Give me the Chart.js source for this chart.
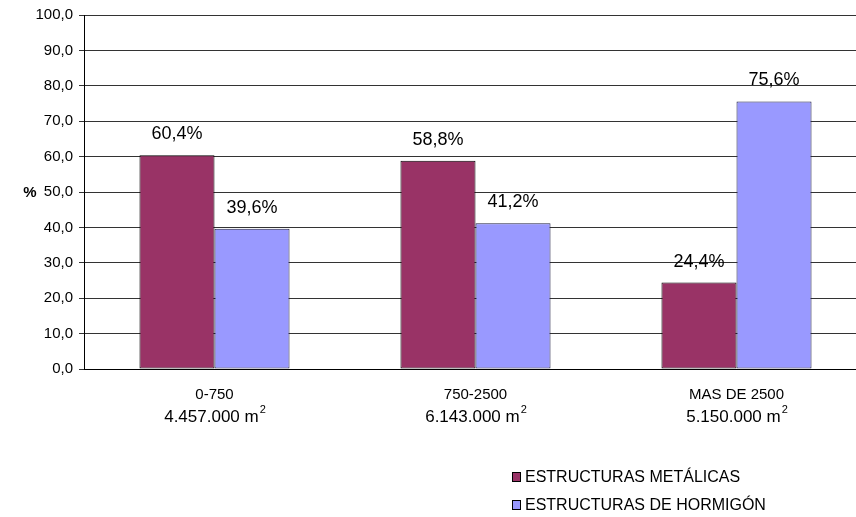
<!DOCTYPE html>
<html>
<head>
<meta charset="utf-8">
<script src="https://cdn.jsdelivr.net/npm/chart.js@4/dist/chart.umd.min.js"></script>
<style>
  html, body { margin: 0; padding: 0; background: #fff; overflow: hidden; }
  #wrap { width: 867px; height: 517px; }
</style>
</head>
<body>
<div id="wrap"><canvas id="myChart" width="867" height="517"></canvas></div>
<script>
// rangos de superficie
const categorias = ["0-750", "750-2500", "MAS DE 2500"];
const superficies = ["4.457.000 m", "6.143.000 m", "5.150.000 m"];
const metalicas = [60.4, 58.8, 24.4];
const hormigon = [39.6, 41.2, 75.6];
const serieNombres = ["ESTRUCTURAS METÁLICAS", "ESTRUCTURAS DE HORMIGÓN"];
const colores = ["#993366", "#9999FF"];

const FONT = "Arial, 'Liberation Sans', sans-serif";

function coma(v) {
  return v.toFixed(1).replace(".", ",");
}

//etiquetas encima de las barras
const etiquetasPlugin = {
  id: "etiquetas",
  afterDatasetsDraw(chart) {
    const ctx = chart.ctx;
    ctx.save();
    ctx.font = "18px " + FONT;
    ctx.fillStyle = "#000";
    ctx.textAlign = "center";
    ctx.textBaseline = "middle";
    chart.data.datasets.forEach((ds, i) => {
      chart.getDatasetMeta(i).data.forEach((bar, j) => {
        ctx.fillText(coma(ds.data[j]) + "%", bar.x, bar.y - 21);
      });
    });
    ctx.restore();
  },
};

//segunda linea del eje x con m2, titulo % y leyenda vertical
const extrasPlugin = {
  id: "extras",
  afterDraw(chart) {
    const ctx = chart.ctx;
    const x = chart.scales.x;
    const y = chart.scales.y;
    ctx.save();
    ctx.fillStyle = "#000";
    ctx.textBaseline = "middle";

    // titulo del eje y, horizontal
    ctx.font = "bold 15px " + FONT;
    ctx.textAlign = "center";
    ctx.fillText("%", 30, y.getPixelForValue(50) + 1);

    superficies.forEach((s, i) => {
      ctx.font = "17px " + FONT;
      const w1 = ctx.measureText(s).width;
      ctx.font = "11px " + FONT;
      const w2 = ctx.measureText("2").width;
      const cx = x.getPixelForValue(i);
      const left = cx - (w1 + w2) / 2;
      ctx.font = "17px " + FONT;
      ctx.textAlign = "left";
      ctx.fillText(s, left, 417);
      ctx.font = "11px " + FONT;
      ctx.fillText("2", left + w1 + 1, 410);
    });

    ctx.font = "16px " + FONT;
    serieNombres.forEach((n, i) => {
      const yy = 477 + i * 28;
      ctx.fillStyle = colores[i];
      ctx.fillRect(512, yy - 5, 9, 10);
      ctx.strokeStyle = "#000";
      ctx.lineWidth = 1;
      ctx.strokeRect(512.5, yy - 4.5, 8, 9);
      ctx.fillStyle = "#000";
      ctx.textAlign = "left";
      ctx.fillText(n, 525, yy + 1);
    });
    ctx.restore();
  },
};

const config = {
  type: "bar",
  data: {
    labels: categorias,
    datasets: [
      {
        label: serieNombres[0],
        data: metalicas,
        backgroundColor: colores[0],
        borderColor: "#000",
        borderWidth: 1,
        borderSkipped: false,
        barPercentage: 1,
        categoryPercentage: 0.575,
      },
      {
        label: serieNombres[1],
        data: hormigon,
        backgroundColor: colores[1],
        borderColor: "#222244",
        borderWidth: 1,
        borderSkipped: false,
        barPercentage: 1,
        categoryPercentage: 0.575,
      },
    ],
  },
  options: {
    responsive: false,
    animation: false,
    layout: { padding: { top: 15, left: 0, right: 0, bottom: 0 } },
    plugins: {
      legend: { display: false },
      tooltip: { enabled: false },
    },
    scales: {
      x: {
        grid: { display: false },
        border: { color: "#000", width: 1 },
        ticks: {
          color: "#000",
          font: { family: FONT, size: 15 },
          padding: 9,
          maxRotation: 0,
        },
        afterFit(scale) {
          scale.height = 148;
        },
      },
      y: {
        min: 0,
        max: 100,
        ticks: {
          stepSize: 10,
          color: "#000",
          font: { family: FONT, size: 15 },
          padding: 6,
          callback: (v) => coma(v),
        },
        grid: { color: "#333", lineWidth: 1, tickLength: 5 },
        border: { color: "#000", width: 1 },
        afterFit(scale) {
          scale.width = 84;
        },
      },
    },
  },
  plugins: [etiquetasPlugin, extrasPlugin],
};

const myChart = new Chart(document.getElementById("myChart"), config);
</script>
</body>
</html>
